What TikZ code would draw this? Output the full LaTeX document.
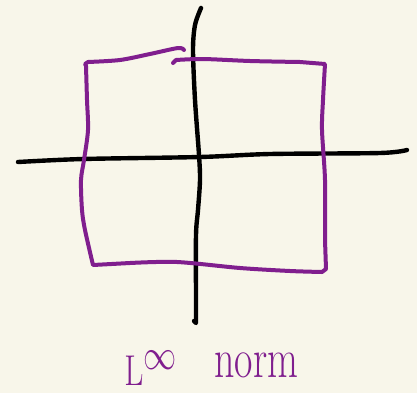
\documentclass[tikz,border=0pt]{standalone}
\usepackage{tikz}
\usetikzlibrary{positioning}
\definecolor{paper}{RGB}{248,246,234}
\definecolor{ink}{RGB}{128,30,142}

\begin{document}
\begin{tikzpicture}[x=0.75pt, y=-0.75pt,
    axis/.style={draw=black, line width=3.3pt, line cap=round, line join=round},
    pen/.style={draw=ink, line width=3pt, line cap=round, line join=round},
    lbl/.style={text=ink, inner sep=0pt, anchor=base west}
]
\fill[paper] (0,0) rectangle (417,393);
\useasboundingbox (0,0) rectangle (417,393);

% axes
\draw[axis] plot[smooth] coordinates {(18,162) (83,159) (200,157) (270,154) (380,153) (407,150)};
\draw[axis] plot[smooth] coordinates {(201,8) (195,25) (193,50) (195,100) (199,155) (200,180) (198,210) (196,235) (196,300) (196,323)} -- (194,321);

% the unit ball, square
\draw[pen] plot[smooth] coordinates {(184,50) (178,48) (150,54) (120,60) (88,62)} -- (85,64)
    -- plot[smooth] coordinates {(86,66) (87,100) (88,130) (84,160) (81,180) (82,210) (85,230) (93,265)}
    -- plot[smooth] coordinates {(130,263) (177,262) (240,268) (290,271) (322,272)} -- (326,269)
    -- plot[smooth] coordinates {(325,240) (325,180) (322,130) (323,100) (325,64)}
    -- plot[smooth] coordinates {(300,62) (250,61) (203,59) (176,60)} -- (173,63);

% label
\node[lbl, font=\fontsize{34}{34}\selectfont] (lname) at (124,385) {\scalebox{1}[1.3]{$\mathrm{L}^{\infty}$}};
\node[lbl, font=\fontsize{30}{30}\selectfont] (nname) at (214,377) {\scalebox{1}[1.4]{norm}};
\end{tikzpicture}
\end{document}
